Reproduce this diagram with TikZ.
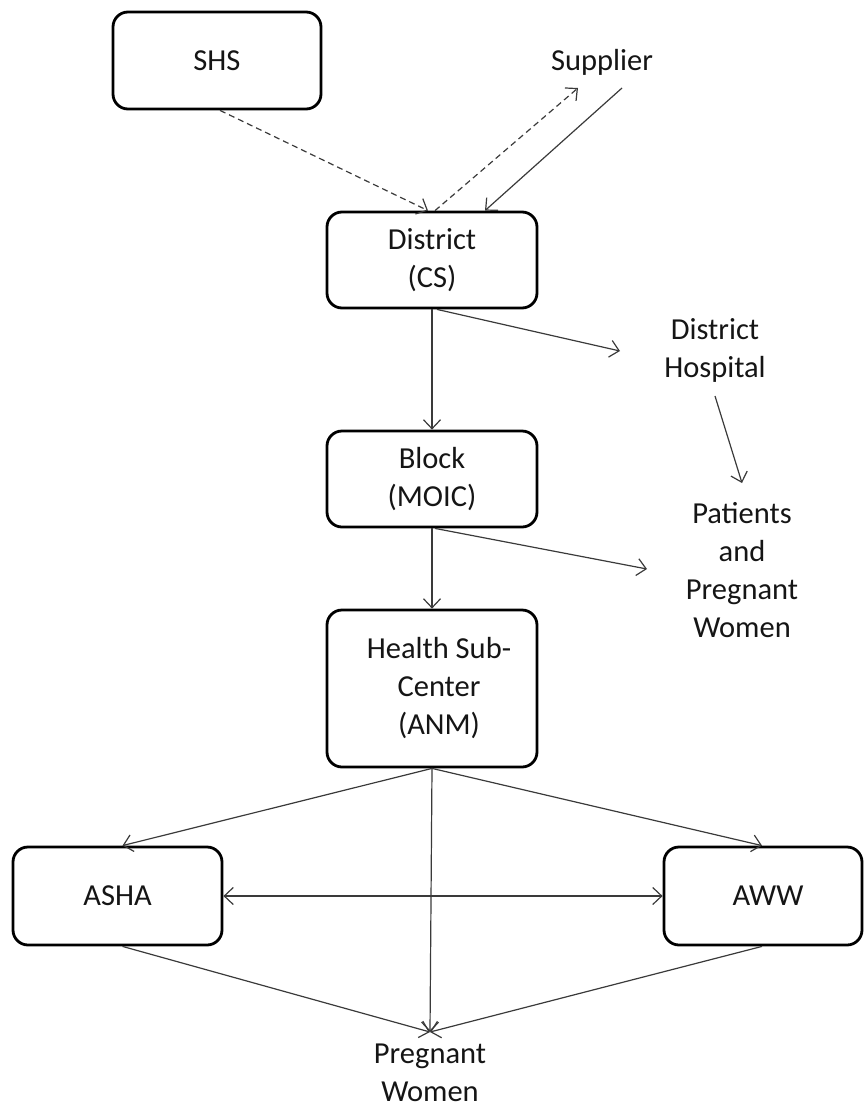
\documentclass[tikz,border=0pt]{standalone}
\usepackage{fontspec}
\setmainfont{Carlito}
\usetikzlibrary{arrows.meta}
\definecolor{linec}{HTML}{3A3A3A}
\definecolor{textc}{HTML}{151515}
\tikzset{
  box/.style={draw=black, line width=2.8pt, rounded corners=15pt, fill=white,
    align=center, text=textc, font=\fontsize{30.5}{38}\selectfont, inner sep=0pt},
  label/.style={align=center, text=textc, font=\fontsize{30.5}{38}\selectfont, inner sep=0pt},
  conn/.style={draw=linec, line width=1.2pt, -{Straight Barb[length=9pt,width=17pt,line width=1.2pt]}},
  biconn/.style={draw=linec, line width=1.2pt, {Straight Barb[length=9pt,width=17pt,line width=1.2pt]}-{Straight Barb[length=9pt,width=17pt,line width=1.2pt]}},
  dconn/.style={conn, dash pattern=on 6pt off 4pt}
}
\begin{document}
\begin{tikzpicture}[x=1pt, y=-1pt]
\useasboundingbox (0,0) rectangle (864,1109);
% boxes
\node[box, minimum width=208pt, minimum height=97pt] (shs) at (217,60.5) {SHS};
\node[box, minimum width=210pt, minimum height=96pt] (dist) at (432,260) {District\\(CS)};
\node[box, minimum width=210pt, minimum height=96pt] (block) at (432,479) {Block\\(MOIC)};
\node[box, minimum width=210pt, minimum height=157pt] (hsc) at (432,688.5) {\hspace*{14pt}Health Sub-\\\hspace*{14pt}Center\\\hspace*{14pt}(ANM)};
\node[box, minimum width=209pt, minimum height=98pt] (asha) at (117.5,896) {ASHA};
\node[box, minimum width=198pt, minimum height=98pt] (aww) at (763,896) {\hspace*{10pt}AWW};
% plain labels
\node[label] (sup) at (602,62) {Supplier};
\node[label] (hosp) at (715,350) {District\\Hospital};
\node[label] (pat) at (742,570) {Patients\\and\\Pregnant\\Women};
\node[label] (pw) at (430,1073) {Pregnant\\Women};
% top connectors
\draw[dconn] ([xshift=3pt]shs.south) -- ([xshift=-4pt]dist.north);
\draw[dconn] ([xshift=3pt]dist.north) -- ([shift={(-24,26)}]sup.center);
\draw[conn] ([shift={(20,26)}]sup.center) -- ([xshift=53pt]dist.north);
% district
\draw[conn] (dist.south) -- (block.north);
\draw[conn] ([xshift=5pt]dist.south) -- ([shift={(-95,1)}]hosp.center);
\draw[conn] ([shift={(0,46)}]hosp.center) -- ([shift={(0,-87)}]pat.center);
% block
\draw[conn] (block.south) -- (hsc.north);
\draw[conn] ([xshift=3pt]block.south) -- ([shift={(-95,-1)}]pat.center);
% health sub-centre
\draw[conn] (hsc.south) -- ([yshift=41pt]pw.center);
\draw[conn] (hsc.south) -- ([xshift=5pt]asha.north);
\draw[conn] (hsc.south) -- ([xshift=-1pt]aww.north);
\draw[biconn] (asha.east) -- (aww.west);
\draw[conn] ([xshift=5pt]asha.south) -- ([yshift=41pt]pw.center);
\draw[conn] ([xshift=-1pt]aww.south) -- ([yshift=41pt]pw.center);
\end{tikzpicture}
\end{document}
